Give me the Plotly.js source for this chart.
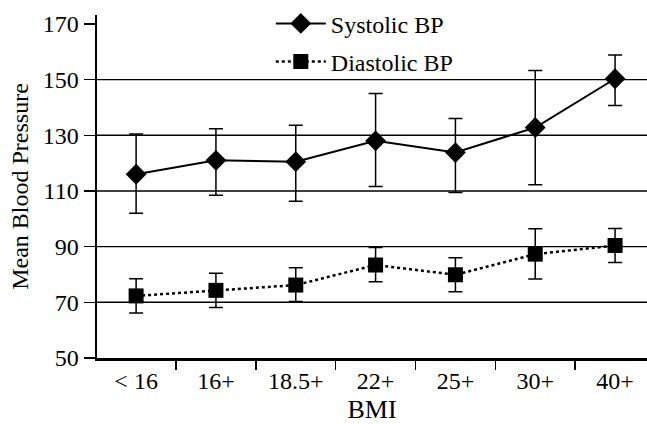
<!DOCTYPE html>
<html>
<head>
<meta charset="utf-8">
<script src="https://cdn.plot.ly/plotly-3.0.1.min.js"></script>
<style>html,body{margin:0;padding:0;background:#fff;}#chart{width:647px;height:424px;}</style>
</head>
<body>
<div id="chart"></div>
<script>
var categories = ["< 16", "16+", "18.5+", "22+", "25+", "30+", "40+"];
var systolic = [116, 121, 120.5, 128, 123.8, 132.8, 150.3];
var systolicUpper = [130.5, 132.3, 133.6, 145, 136, 153.3, 158.8];
var systolicLower = [102, 108.5, 106.3, 111.6, 109.4, 112.2, 140.7];
var diastolic = [72.3, 74.3, 76.2, 83.4, 79.9, 87.3, 90.4];
var diastolicUpper = [78.5, 80.4, 82.4, 89.7, 86, 96.4, 96.5];
var diastolicLower = [66.2, 68.1, 70.3, 77.4, 73.8, 78.4, 84.3];
var yTicks = [50, 70, 90, 110, 130, 150, 170];
var gridVals = [70, 90, 110, 130, 150];

function diff(a, b, sign) { return a.map(function (v, i) { return sign * (v - b[i]); }); }

var font = "Liberation Serif";

var traces = [
  {
    name: "Systolic BP", x: categories, y: systolic, type: "scatter", mode: "lines+markers",
    legendgroup: "s",
    line: {color: "#000", width: 2},
    marker: {symbol: "diamond", size: 16, color: "#000"},
    error_y: {type: "data", symmetric: false, array: diff(systolicUpper, systolic, 1),
      arrayminus: diff(systolicLower, systolic, -1), color: "#000", thickness: 1.5, width: 7}
  },
  {
    name: "Diastolic BP", x: categories, y: diastolic, type: "scatter", mode: "lines+markers",
    legendgroup: "d",
    line: {color: "#000", width: 2.5, dash: "dot"},
    marker: {symbol: "square", size: 15, color: "#000"},
    error_y: {type: "data", symmetric: false, array: diff(diastolicUpper, diastolic, 1),
      arrayminus: diff(diastolicLower, diastolic, -1), color: "#000", thickness: 1.5, width: 7}
  }
];

var shapes = gridVals.map(function (v) {
  return {type: "line", xref: "paper", x0: 0, x1: 1, yref: "y", y0: v, y1: v,
    line: {color: "#000", width: 1.4}, layer: "below"};
});

var layout = {
  width: 647, height: 424,
  margin: {l: 97, r: 0, t: 15, b: 66},
  paper_bgcolor: "#fff", plot_bgcolor: "#fff",
  font: {family: font, size: 24, color: "#000"},
  showlegend: true,
  legend: {x: 0.316, xanchor: "left", y: 1.04, yanchor: "top", bgcolor: "rgba(0,0,0,0)",
    itemwidth: 50,
    font: {family: font, size: 24, color: "#000"}, traceorder: "grouped", tracegroupgap: 4},
  xaxis: {
    type: "category", range: [-0.49, 6.4], showgrid: false, zeroline: false,
    showline: true, linecolor: "#000", linewidth: 2.5,
    ticks: "outside", tickson: "boundaries", ticklen: 9, tickwidth: 1.5, tickcolor: "#000",
    tickfont: {family: font, size: 24, color: "#000"},
    title: {text: "BMI", font: {family: font, size: 26, color: "#000"}, standoff: 9}
  },
  yaxis: {
    range: [50, 173.2], tickmode: "array", tickvals: yTicks, showgrid: false, zeroline: false,
    showline: true, linecolor: "#000", linewidth: 2.5,
    ticks: "outside", ticklen: 11, tickwidth: 1.5, tickcolor: "#000",
    tickfont: {family: font, size: 24, color: "#000"},
    title: {text: "Mean Blood Pressure", font: {family: font, size: 24, color: "#000"}, standoff: 8}
  },
  shapes: shapes
};

Plotly.newPlot("chart", traces, layout, {staticPlot: true, displayModeBar: false});
</script>
</body>
</html>
